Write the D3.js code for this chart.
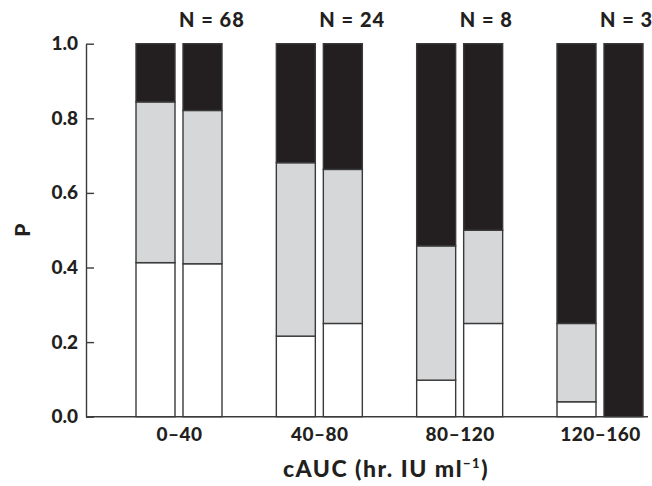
<!DOCTYPE html>
<html>
<head>
<meta charset="utf-8">
<title></title>
<script src="https://cdn.jsdelivr.net/npm/d3@7"></script>
<style>
  body { margin: 0; background: #fff; }
  text { font-family: Lato, "Open Sans", sans-serif; font-weight: 900; fill: #231f20; }
</style>
</head>
<body>
<div id="chart"></div>
<script>
// cAUC bins
var categories = ["0\u201340", "40\u201380", "80\u2013120", "120\u2013160"];
var nLabels = ["N = 68", "N = 24", "N = 8", "N = 3"];
// two bars per bin, bottom -> top segments (proportions)
var lowSeg  = [0.413, 0.410, 0.216, 0.250, 0.098, 0.250, 0.040, 0.000];
var midSeg  = [0.431, 0.411, 0.465, 0.413, 0.360, 0.250, 0.210, 0.000];
var highSeg = [0.156, 0.179, 0.319, 0.337, 0.542, 0.500, 0.750, 1.000];
var yTicks = [0, 0.2, 0.4, 0.6, 0.8, 1.0];

var w = 652, h = 486;
var plotLeft = 86, plotRight = 648, plotTop = 43.7, plotBottom = 416.7;

var svg = d3.select("#chart").append("svg")
    .attr("width", w)
    .attr("height", h);

var rows = lowSeg.map(function (d, i) {
    return { group: categories[Math.floor(i / 2)], sub: i % 2, low: d, mid: midSeg[i], high: highSeg[i] };
});

var x = d3.scalePoint().domain(categories).range([179, 600]);
var xSub = d3.scaleBand().domain([0, 1]).range([-43, 43]).paddingInner(16 / 94);
var y = d3.scaleLinear().domain([0, 1]).range([plotBottom, plotTop]);

var stack = d3.stack().keys(["low", "mid", "high"]);
var series = stack(rows);
var fills = { low: "#ffffff", mid: "#d6d7d9", high: "#231f20" };

svg.append("g").selectAll("g")
    .data(series)
    .enter().append("g")
    .attr("fill", function (s) { return fills[s.key]; })
    .selectAll("rect")
    .data(function (s) { return s.filter(function (d) { return d[1] - d[0] > 0; }); })
    .enter().append("rect")
    .attr("x", function (d) { return x(d.data.group) + xSub(d.data.sub); })
    .attr("y", function (d) { return y(d[1]); })
    .attr("width", xSub.bandwidth())
    .attr("height", function (d) { return y(d[0]) - y(d[1]); })
    .attr("stroke", "#3a3a3a")
    .attr("stroke-width", 1.4);

// y axis, ticks pointing inward
var yAxis = svg.append("g")
    .attr("transform", "translate(" + plotLeft + ",0)")
    .call(d3.axisLeft(y).tickValues(yTicks).tickFormat(d3.format(".1f"))
        .tickSize(-8).tickSizeOuter(0).tickPadding(8));
yAxis.selectAll("path, line").attr("stroke", "#3a3a3a").attr("stroke-width", 1.4);
yAxis.selectAll("text").style("font-size", "19px").style("font-family", null).attr("fill", "#231f20");

// x axis
var xAxis = svg.append("g")
    .attr("transform", "translate(0," + plotBottom + ")")
    .call(d3.axisBottom(x).tickSize(0).tickPadding(11));
xAxis.select(".domain").remove();
xAxis.selectAll("text").style("font-size", "19px").style("font-family", null)
    .style("letter-spacing", "0.5px").attr("fill", "#231f20");
svg.append("line")
    .attr("x1", plotLeft).attr("x2", plotRight)
    .attr("y1", plotBottom).attr("y2", plotBottom)
    .attr("stroke", "#3a3a3a").attr("stroke-width", 1.4);

// N labels
svg.append("g").selectAll("text")
    .data(nLabels)
    .enter().append("text")
    .attr("x", function (d, i) { return x(categories[i]); })
    .attr("y", 27)
    .style("font-size", "20px")
    .style("letter-spacing", "1px")
    .text(function (d) { return d; });

// axis titles
var xt = svg.append("text")
    .attr("x", 386).attr("y", 477)
    .attr("text-anchor", "middle")
    .style("font-size", "23px")
    .style("letter-spacing", "1.5px");
xt.append("tspan").text("cAUC (hr. IU ml");
xt.append("tspan").attr("dy", -9).style("font-size", "13px").text("\u22121");
xt.append("tspan").attr("dy", 9).text(")");

svg.append("text")
    .attr("transform", "translate(30," + ((plotTop + plotBottom) / 2) + ") rotate(-90)")
    .attr("text-anchor", "middle")
    .style("font-size", "21px")
    .text("P");
</script>
</body>
</html>
